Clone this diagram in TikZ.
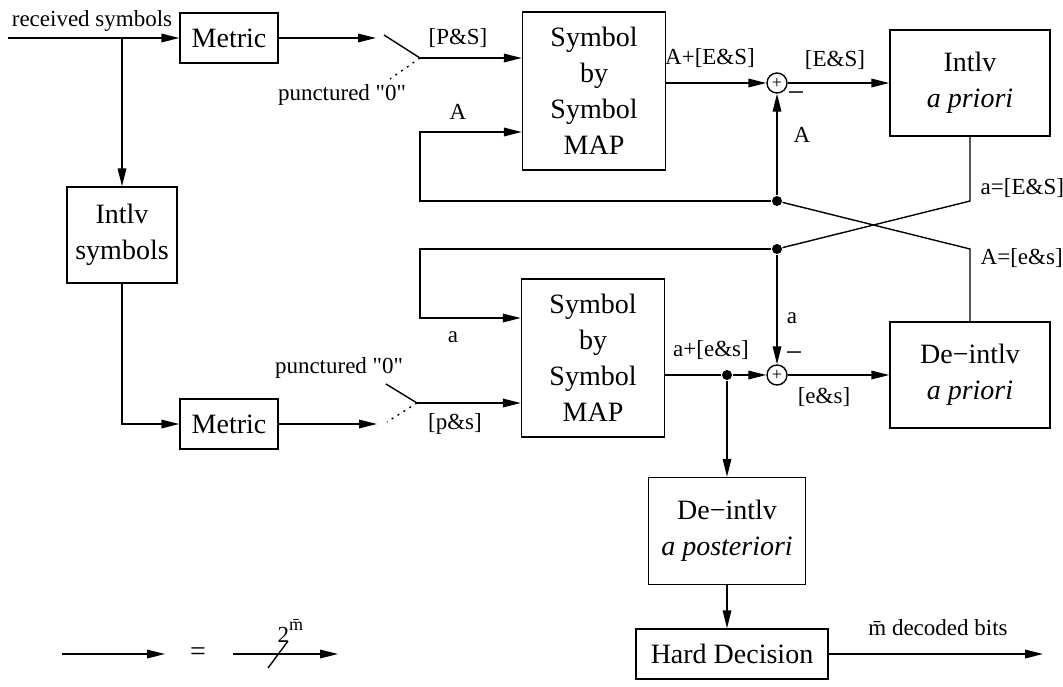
\documentclass[tikz,border=0pt]{standalone}
\usepackage{fontspec}
\setmainfont{Liberation Serif}
\usetikzlibrary{arrows.meta}

\begin{document}
\begin{tikzpicture}[x=0.5pt,y=-0.5pt,line width=0.7pt]
  \tikzset{blk/.style = {shape=rectangle,draw,align=center,inner sep=0pt,font=\fontsize{14}{18}\selectfont}}
  \tikzset{lbl/.style = {inner sep=0pt,font=\fontsize{11.5}{13}\selectfont}}
  \tikzset{adder/.style = {shape=circle,draw,minimum size=10pt,inner sep=0pt,font=\fontsize{9}{9}\selectfont}}
  \tikzset{jdot/.style = {shape=circle,fill,minimum size=5pt,inner sep=0pt}}
  \tikzset{%
  tipT/.tip={Triangle[length=9pt,width=4.3pt]},
  }
  \tikzset{sig/.style = {-tipT}}

  \useasboundingbox (0,0) rectangle (1063,686);

	\node[blk,minimum width=49pt,minimum height=25pt] (met1) at (229,38) {Metric};
	\node[blk,minimum width=49pt,minimum height=25pt] (met2) at (229,424) {Metric};
	\node[blk,minimum width=55pt,minimum height=48pt] (IS) at (122,235) {Intlv\\symbols};
	\node[blk,minimum width=71.5pt,minimum height=79pt] (SM1) at (594,91) {Symbol\\by\\Symbol\\MAP};
	\node[blk,minimum width=71.5pt,minimum height=79pt] (SM2) at (593,358) {Symbol\\by\\Symbol\\MAP};
	\node[blk,minimum width=80pt,minimum height=53pt] (IA) at (970,83) {Intlv\\\textit{a priori}};
	\node[blk,minimum width=80pt,minimum height=53pt] (DA) at (970,375) {De−intlv\\\textit{a priori}};
	\node[blk,minimum width=78.5pt,minimum height=53.5pt] (DP) at (727,531) {De−intlv\\\textit{a posteriori}};
	\node[blk,minimum width=96pt,minimum height=25pt] (HD) at (732,654) {Hard Decision};

	\node[adder] (add1) at (777,83) {+};
	\node[adder] (add2) at (777,375) {+};
	\node[jdot] (j1) at (777,201) {};
	\node[jdot] (j2) at (777,249) {};
	\node[jdot] (j3) at (727,375) {};

	\coordinate (in) at (8,38);
	\coordinate (br) at (122,38);
	\coordinate (s1tip) at (376,38);
	\coordinate (s1arm) at (384,35);
	\coordinate (s1piv) at (420,58);
	\coordinate (s1dot) at (390,79);
	\coordinate (s2tip) at (377,424);
	\coordinate (s2arm) at (386,384);
	\coordinate (s2piv) at (417,403);
	\coordinate (s2dot) at (387,422);
	\coordinate (fbA) at (420,132);
	\coordinate (fba) at (420,318);
	\coordinate (hdout) at (1043,654);

	% input side
	\draw[sig] (in) -- (met1.west);
	\draw[sig] (br) -- (IS.north);
	\draw[sig] (IS.south) |- (met2.west);
	\draw[sig] (met1.east) -- (s1tip);
	\draw[sig] (met2.east) -- (s2tip);

	% puncturing switches
	\draw (s1arm) -- (s1piv);
	\draw[dash pattern=on 1pt off 2.5pt] (s1piv) -- (s1dot);
	\draw[sig] (s1piv) -- (s1piv -| SM1.west);
	\draw (s2arm) -- (s2piv);
	\draw[dash pattern=on 1pt off 2.5pt] (s2piv) -- (s2dot);
	\draw[sig] (s2piv) -- (s2piv -| SM2.west);

	% upper decoder
	\draw[sig] (SM1.east |- add1) -- (add1);
	\draw[sig] (add1) -- (IA.west);
	\draw[sig] (j1) -- (add1);
	\draw[sig] (j1) -| (fbA) -- (fbA -| SM1.west);

	% lower decoder
	\draw (SM2.east |- add2) -- (j3);
	\draw[sig] (j3) -- (add2);
	\draw[sig] (add2) -- (DA.west);
	\draw[sig] (j2) -- (add2);
	\draw[sig] (j2) -| (fba) -- (fba -| SM2.west);

	% cross-over
	\draw (IA.south) -- (IA.south |- j1) -- (j2);
	\draw (DA.north) -- (DA.north |- j2) -- (j1);

	% output
	\draw[sig] (j3) -- (DP.north);
	\draw[sig] (DP.south) -- (DP.south |- HD.north);
	\draw[sig] (HD.east) -- (hdout);

	% labels
	\node[lbl,anchor=base] (rcv) at (92,26) {received symbols};
	\node[lbl] (lPS) at (458,38) {[P\&S]};
	\node[lbl] (lpunc1) at (342,95) {punctured \textquotedbl 0\textquotedbl};
	\node[lbl] (lpunc2) at (339,368) {punctured \textquotedbl 0\textquotedbl};
	\node[lbl] (lps) at (455,424) {[p\&s]};
	\node[lbl] (lA1) at (458,112) {A};
	\node[lbl] (la1) at (453,337) {a};
	\node[lbl] (lAES) at (710,58) {A+[E\&S]};
	\node[lbl] (lES) at (835,60) {[E\&S]};
	\node[lbl] (lA2) at (802,135) {A};
	\node[lbl,font=\fontsize{15}{15}\selectfont] (lm1) at (796,97) {−};
	\node[lbl,anchor=west] (laES) at (980,188) {a=[E\&S]};
	\node[lbl,anchor=west] (lAes) at (980,258) {A=[e\&s]};
	\node[lbl] (la2) at (792,318) {a};
	\node[lbl,font=\fontsize{15}{15}\selectfont] (lm2) at (794,357) {−};
	\node[lbl] (laes) at (711,350) {a+[e\&s]};
	\node[lbl] (les) at (824,397) {[e\&s]};
	\node[lbl] (lbits) at (938,628) {\={m} decoded bits};

	% legend
	\coordinate (lgA) at (62,654);
	\coordinate (lgB) at (165,654);
	\coordinate (lgC) at (233,654);
	\coordinate (lgD) at (338,654);
	\coordinate (slA) at (268,668);
	\coordinate (slB) at (288,641);
	\draw[sig] (lgA) -- (lgB);
	\node[lbl,font=\fontsize{14}{14}\selectfont] (eq) at (198,654) {=};
	\draw[sig] (lgC) -- (lgD);
	\draw (slA) -- (slB);
	\node[lbl,anchor=base west] (pow) at (277,642) {2\raisebox{1.1ex}{\fontsize{9}{9}\selectfont\={m}}};
\end{tikzpicture}
\end{document}
